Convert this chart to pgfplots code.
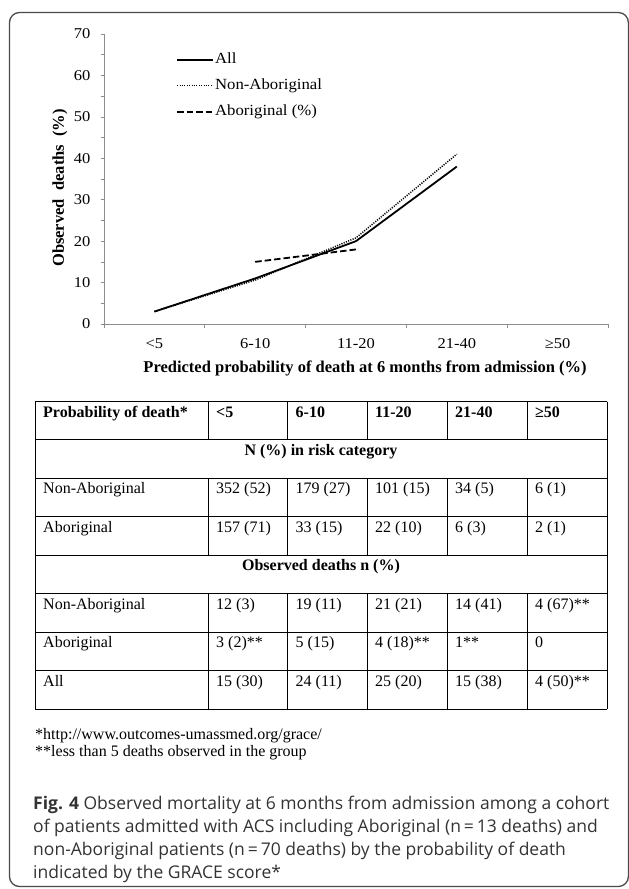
\documentclass[border=0pt]{standalone}
\usepackage{fontspec}
\setmainfont{Liberation Serif}
\newfontfamily\tickfont[FakeStretch=1.1]{Liberation Serif}
\newfontfamily\legfont[FakeStretch=1.08]{Liberation Serif}
\newfontfamily\capfont{Open Sans}
\usepackage{pgfplots}
\pgfplotsset{compat=1.18}
\definecolor{axgray}{HTML}{8C8C8C}
\definecolor{framegray}{HTML}{4A4A4A}
\definecolor{captext}{HTML}{333333}
\newcommand{\tfs}{\fontsize{16bp}{18bp}\selectfont}
\begin{document}
\begin{tikzpicture}
\useasboundingbox (0bp,0bp) rectangle (629bp,-889bp);
\draw[framegray, line width=1.3bp, rounded corners=10bp] (9.5bp,-12.5bp) rectangle (628.4bp,-886.5bp);
\begin{axis}[
  at={(104bp,-324bp)}, anchor=south west,
  width=504bp, height=290bp, scale only axis,
  xmin=0, xmax=5, ymin=0, ymax=70,
  axis lines=left,
  axis line style={-, axgray, line width=0.8bp},
  tick align=outside,
  major tick length=3.5bp, minor tick length=3.5bp,
  tick style={axgray, line width=0.7bp},
  xtick={0,1,2,3,4,5}, xticklabels={},
  extra x ticks={0.5,1.5,2.5,3.5,4.5},
  extra x tick labels={<5,6-10,11-20,21-40,≥50},
  extra x tick style={major tick length=0pt, tick label style={anchor=north, inner sep=0pt, yshift=-14bp}},
  ytick={0,10,...,70}, minor ytick={5,15,...,65},
  /pgf/number format/assume math mode=true,
  tick label style={font=\tickfont\fontsize{15bp}{17bp}\selectfont, text=black},
  yticklabel style={anchor=east, inner sep=0pt, xshift=-10bp},
  ylabel={Observed\ \ deaths\ \ (\%)},
  ylabel style={at={(axis description cs:-0.0873,0.469)}, anchor=center, font=\bfseries\fontsize{16.5bp}{18bp}\selectfont},
  xlabel={Predicted probability of death at 6 months from admission (\%)},
  xlabel style={at={(axis description cs:0.518,-0.152)}, anchor=center, font=\bfseries\fontsize{16.5bp}{18bp}\selectfont},
  legend style={at={(axis description cs:0.143,0.938)}, anchor=north west, draw=none, fill=none,
    font=\legfont\fontsize{15.5bp}{17bp}\selectfont, inner sep=0pt, row sep=11bp, column sep=1bp,
    nodes={inner sep=0pt, text height=11bp, text depth=4bp}},
  legend cell align=left,
  legend image code/.code={\draw[#1] (0bp,0bp) -- (36bp,0bp);},
]
\addplot[black, line width=1.8bp] coordinates {(0.5,3) (1.5,11) (2.5,20) (3.5,38)};
\addlegendentry{All}
\addplot[black, line width=1.5bp, dash pattern=on 1.1bp off 1.3bp] coordinates {(0.5,3) (1.5,10.6) (2.5,20.8) (3.5,41)};
\addlegendentry{Non-Aboriginal}
\addplot[black, line width=1.8bp, dash pattern=on 6.5bp off 3bp] coordinates {(1.5,15) (2.5,18)};
\addlegendentry{Aboriginal (\%)}
\end{axis}
\begin{scope}[x=1bp, y=-1bp]
  \foreach \yy in {401.5,439.95,478.4,516.85,555.3,593.75,632.2,670.65,709.1}
    \draw[black, line width=1bp] (35,\yy) -- (607,\yy);
  \draw[black, line width=1bp] (35,401.5) -- (35,709.1);
  \draw[black, line width=1bp] (607,401.5) -- (607,709.1);
  \foreach \xx in {208,287.5,367,447,527} {
    \draw[black, line width=1bp] (\xx,401.5) -- (\xx,439.95);
    \draw[black, line width=1bp] (\xx,478.4) -- (\xx,555.3);
    \draw[black, line width=1bp] (\xx,593.75) -- (\xx,709.1);
  }
  \def\rb{417}
  \node[anchor=base west, inner sep=0pt, font=\bfseries\tfs] at (43,\rb) {Probability of death*};
  \node[anchor=base west, inner sep=0pt, font=\bfseries\tfs] at (216,\rb) {<5};
  \node[anchor=base west, inner sep=0pt, font=\bfseries\tfs] at (295.5,\rb) {6-10};
  \node[anchor=base west, inner sep=0pt, font=\bfseries\tfs] at (375,\rb) {11-20};
  \node[anchor=base west, inner sep=0pt, font=\bfseries\tfs] at (455,\rb) {21-40};
  \node[anchor=base west, inner sep=0pt, font=\bfseries\tfs] at (535,\rb) {≥50};
  \node[anchor=base, inner sep=0pt, font=\bfseries\tfs] at (321,455.45) {N (\%) in risk category};
  \def\rb{493.9}
  \node[anchor=base west, inner sep=0pt, font=\tfs] at (43,\rb) {Non-Aboriginal};
  \node[anchor=base west, inner sep=0pt, font=\tfs] at (216,\rb) {352 (52)};
  \node[anchor=base west, inner sep=0pt, font=\tfs] at (295.5,\rb) {179 (27)};
  \node[anchor=base west, inner sep=0pt, font=\tfs] at (375,\rb) {101 (15)};
  \node[anchor=base west, inner sep=0pt, font=\tfs] at (455,\rb) {34 (5)};
  \node[anchor=base west, inner sep=0pt, font=\tfs] at (535,\rb) {6 (1)};
  \def\rb{532.35}
  \node[anchor=base west, inner sep=0pt, font=\tfs] at (43,\rb) {Aboriginal};
  \node[anchor=base west, inner sep=0pt, font=\tfs] at (216,\rb) {157 (71)};
  \node[anchor=base west, inner sep=0pt, font=\tfs] at (295.5,\rb) {33 (15)};
  \node[anchor=base west, inner sep=0pt, font=\tfs] at (375,\rb) {22 (10)};
  \node[anchor=base west, inner sep=0pt, font=\tfs] at (455,\rb) {6 (3)};
  \node[anchor=base west, inner sep=0pt, font=\tfs] at (535,\rb) {2 (1)};
  \node[anchor=base, inner sep=0pt, font=\bfseries\tfs] at (321,570.8) {Observed deaths n (\%)};
  \def\rb{609.25}
  \node[anchor=base west, inner sep=0pt, font=\tfs] at (43,\rb) {Non-Aboriginal};
  \node[anchor=base west, inner sep=0pt, font=\tfs] at (216,\rb) {12 (3)};
  \node[anchor=base west, inner sep=0pt, font=\tfs] at (295.5,\rb) {19 (11)};
  \node[anchor=base west, inner sep=0pt, font=\tfs] at (375,\rb) {21 (21)};
  \node[anchor=base west, inner sep=0pt, font=\tfs] at (455,\rb) {14 (41)};
  \node[anchor=base west, inner sep=0pt, font=\tfs] at (535,\rb) {4 (67)**};
  \def\rb{647.7}
  \node[anchor=base west, inner sep=0pt, font=\tfs] at (43,\rb) {Aboriginal};
  \node[anchor=base west, inner sep=0pt, font=\tfs] at (216,\rb) {3 (2)**};
  \node[anchor=base west, inner sep=0pt, font=\tfs] at (295.5,\rb) {5 (15)};
  \node[anchor=base west, inner sep=0pt, font=\tfs] at (375,\rb) {4 (18)**};
  \node[anchor=base west, inner sep=0pt, font=\tfs] at (455,\rb) {1**};
  \node[anchor=base west, inner sep=0pt, font=\tfs] at (535,\rb) {0};
  \def\rb{686.15}
  \node[anchor=base west, inner sep=0pt, font=\tfs] at (43,\rb) {All};
  \node[anchor=base west, inner sep=0pt, font=\tfs] at (216,\rb) {15 (30)};
  \node[anchor=base west, inner sep=0pt, font=\tfs] at (295.5,\rb) {24 (11)};
  \node[anchor=base west, inner sep=0pt, font=\tfs] at (375,\rb) {25 (20)};
  \node[anchor=base west, inner sep=0pt, font=\tfs] at (455,\rb) {15 (38)};
  \node[anchor=base west, inner sep=0pt, font=\tfs] at (535,\rb) {4 (50)**};
  \node[anchor=base west, inner sep=0pt, font=\tfs] at (35,739) {*http://www.outcomes-umassmed.org/grace/};
  \node[anchor=base west, inner sep=0pt, font=\tfs] at (35,756) {**less than 5 deaths observed in the group};
  \node[anchor=base west, inner sep=0pt, text=captext, font=\capfont\fontsize{17.5bp}{20bp}\selectfont] at (33,809) {\textbf{Fig. 4} Observed mortality at 6 months from admission among a cohort};
  \node[anchor=base west, inner sep=0pt, text=captext, font=\capfont\fontsize{17.5bp}{20bp}\selectfont] at (33,832) {of patients admitted with ACS including Aboriginal (n\,=\,13 deaths) and};
  \node[anchor=base west, inner sep=0pt, text=captext, font=\capfont\fontsize{17.5bp}{20bp}\selectfont] at (33,855) {non-Aboriginal patients (n\,=\,70 deaths) by the probability of death};
  \node[anchor=base west, inner sep=0pt, text=captext, font=\capfont\fontsize{17.5bp}{20bp}\selectfont] at (33,878) {indicated by the GRACE score*};
\end{scope}
\end{tikzpicture}
\end{document}
